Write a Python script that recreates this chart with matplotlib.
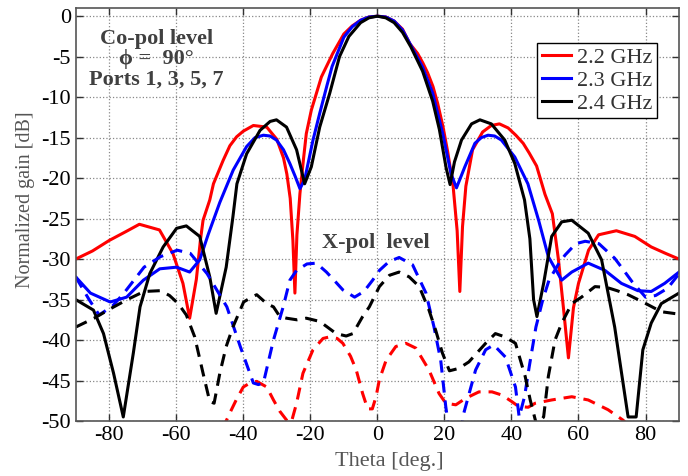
import matplotlib.pyplot as plt

plt.rcParams['font.family'] = ['Liberation Serif', 'DejaVu Serif']
plt.rcParams['axes.unicode_minus'] = False

# ------------------ Co-pol (solid) ------------------
theta_co_22 = [-90, -85, -80, -75, -71, -65, -61, -58, -56, -54, -52.8, -52, -50, -48.9, -46, -44, -42, -40, -37,
               -33, -30, -28, -27, -26, -25.2, -24.6, -24, -23.1, -22, -21.2, -19.7, -16.7, -13.3, -10, -7.5, -5,
               -2.5, 0, 2.5, 5, 7.5, 9.7, 12, 13.6, 15, 16.6, 18, 19.6, 21, 22.6, 23.8, 24.6, 25.4, 26.4, 28.4,
               31.4, 34, 36.4, 39, 41.3, 43.5, 45.3, 47.5, 50, 52.2, 54, 55.5, 57, 58.5, 60, 63, 66, 71.3, 76.8,
               81.7, 86, 90]
gain_co_22 = [-30, -29, -27.7, -26.6, -25.7, -26.4, -29.3, -33, -37.3, -32.5, -27.7, -25.2, -22.7, -20.7, -17.8,
              -16, -14.9, -14.2, -13.5, -13.7, -15.2, -17.5, -19.5, -22.5, -27.7, -34.2, -27, -21.9, -17.5, -14.5,
              -11.6, -7.5, -4.6, -2.2, -1.2, -0.5, -0.1, 0, -0.1, -0.6, -1.6, -3.4, -4.6, -5.8, -7.0, -8.7, -10.8,
              -13.7, -16.8, -21, -26.5, -34, -26, -21, -16.5, -14.3, -13.5, -13.3, -13.8, -14.7, -15.7, -16.9,
              -18.5, -22, -24.4, -30, -36, -42.2, -36, -33, -28.9, -27, -26.5, -27.2, -28.5, -29.3, -30]

theta_co_23 = [-90, -85.6, -79.7, -74.8, -69.8, -64.9, -59.9, -56, -53, -50.5, -47, -43, -39, -36.5, -34, -32,
               -30.1, -28, -26.1, -24.5, -23.1, -21.7, -19.2, -17.2, -15, -13.5, -10, -7.5, -5, -2.5, 0, 2.5, 5,
               7.5, 10, 13.5, 16.5, 19.5, 22, 23.6, 26.1, 29.1, 31, 33, 35, 37, 41, 44.9, 48.1, 51, 55, 58, 62.9,
               67.9, 72.8, 77.7, 81.7, 85.7, 90]
gain_co_23 = [-32.2, -34.2, -35.3, -34.7, -32.6, -31.2, -31, -31.6, -30.1, -27, -23, -19, -16.1, -15, -14.7, -14.8,
              -15.3, -16.5, -18.2, -19.8, -21.3, -20.2, -15.3, -12, -8.5, -6.2, -2.6, -1.3, -0.5, -0.1, 0, -0.1,
              -0.6, -1.7, -3.6, -6.3, -9.5, -14.5, -19.5, -21.2, -18.6, -15.7, -15, -14.7, -14.8, -15.3, -17.4,
              -20.7, -25.2, -29.7, -32.6, -31.6, -30.5, -31.4, -33, -33.9, -34, -33, -31.6]

theta_co_24 = [-90, -84.7, -81.7, -78.7, -75.8, -72.8, -70.8, -67.9, -63.9, -59.9, -57, -53, -50, -48.1, -45.1,
               -43.1, -41.9, -39, -35, -32, -30.1, -27.1, -24.1, -21.7, -19.7, -17.2, -14.2, -11.3, -8.5, -5,
               -2.5, 0, 2.5, 5, 7.5, 10, 13.5, 16.5, 18.5, 20.5, 21.7, 23, 25.1, 28.1, 30.6, 34, 38, 41, 43.9,
               45.5, 46.6, 47.6, 49.6, 52, 55, 58, 62.9, 66.9, 70.8, 74.8, 77.2, 79.2, 81.7, 84.7, 90]
gain_co_24 = [-35, -36.3, -39.2, -44.1, -49.5, -41.6, -35.9, -31.8, -28.5, -26.2, -25.9, -27.2, -32.2, -36.7, -31,
              -24.8, -20.7, -17, -14.1, -13, -12.8, -13.7, -16.5, -20.7, -18.6, -13.7, -9.5, -5, -2.5, -0.8, -0.2,
              0, -0.2, -0.8, -2, -3.8, -6.8, -10.5, -14, -18.7, -20.8, -18, -15.3, -13.3, -12.8, -13.3, -15.3,
              -18.2, -22.7, -27.5, -35, -37.1, -33, -27.2, -25.4, -25.2, -26.8, -30.1, -38.4, -49.5, -49.5, -41.2,
              -37.9, -35.5, -34.2]

# ------------------ X-pol (dashed) ------------------
theta_x_22 = [-46.5, -45, -44, -42, -40, -38, -36, -33, -31, -29.1, -26.5, -25.5, -24.1, -22.2, -19.2, -16.2,
              -14.2, -12, -10.3, -8, -6.3, -4.4, -2.9, -1.5, -0.4, 0.6, 2.6, 5.5, 8.5, 11.5, 15.4, 18.4, 20.4,
              23.4, 26.3, 30.3, 34.2, 37.2, 40.1, 42.1, 45, 47.1, 52, 58, 62.9, 68.8, 73.3, 76]
gain_x_22 = [-51, -49.9, -49, -47.3, -45.8, -45.3, -45.1, -45.8, -47.4, -48.8, -50.2, -49.9, -47.8, -44.1, -41.2,
             -39.8, -39.6, -39.8, -40.4, -42, -43.7, -46.6, -48.5, -48.5, -47, -44.9, -42.5, -40.8, -40.4, -41,
             -43.7, -46.6, -47.8, -48, -47.2, -46.4, -46.4, -46.8, -47.6, -48.2, -48.3, -47.8, -47.4, -47, -47.4,
             -48.6, -49.9, -51]

theta_x_23 = [-90, -86, -83, -79, -75.6, -69.6, -64.7, -59.7, -55.8, -50.8, -44.9, -40.9, -37, -35.5, -34, -31,
              -28.1, -26.1, -24.1, -21, -18.2, -15.2, -12.5, -10.3, -6.8, -4, -1.4, 0.6, 3.5, 6.5, 10.5, 14.5,
              16.9, 18.9, 20.4, 21.5, 23, 24.5, 25.8, 29.3, 32.3, 34.7, 38.2, 41.2, 42.3, 43.9, 45.3, 47.3, 49.3,
              51.2, 54.2, 56, 59.2, 62, 66.1, 70.8, 72.8, 76, 80, 83, 86.6, 90]
gain_x_23 = [-32.2, -35, -36.9, -35.8, -34.2, -31, -29.7, -28.9, -29.3, -31.8, -35.9, -40.8, -45.3, -45.5, -45.3,
             -40, -35.9, -32.6, -31.4, -30.6, -30.5, -31.6, -32.8, -33.8, -34.7, -34, -32.6, -31.4, -30.3, -29.8,
             -30.7, -34.2, -38.4, -42.5, -48.2, -51.5, -53, -52, -49, -43.7, -41.2, -40.6, -42.1, -45.8, -49.5,
             -47, -43.3, -38.4, -35.1, -32.6, -30.5, -29.5, -28.1, -27.8, -28.1, -29.9, -31, -32.8, -34.7, -34.5,
             -33.6, -31.8]

theta_x_24 = [-90, -84.5, -79.5, -74.6, -69.6, -64.7, -62, -59.4, -57, -54.5, -52, -50, -48.7, -47, -45.1, -43.1,
              -39.9, -37.5, -36, -33, -31, -29.1, -27.1, -24, -21.2, -17.2, -12.3, -9.3, -7.3, -4.4, -2.4, 0.6,
              3.6, 6.5, 9.5, 12.5, 15.4, 17.4, 19.4, 21.5, 24.3, 27.3, 32.3, 35.2, 38, 41.2, 44.1, 45.6, 47.5,
              49.6, 51, 53, 55, 58, 60.9, 64.9, 68.4, 71.5, 74.8, 79.2, 84.7, 90]
gain_x_24 = [-38.4, -37.3, -36.1, -35, -34, -33.9, -34.5, -35.5, -36.9, -39.6, -44.1, -47.6, -47.8, -44.1, -40.8,
             -38.4, -35.3, -34.7, -34.4, -35.5, -35.9, -37.1, -37.3, -37.5, -37.3, -37.7, -39.2, -39.5, -39.2,
             -37.1, -35.9, -33.4, -32, -31.6, -32.2, -33.4, -36.3, -38.8, -41.6, -43.8, -43.5, -42.7, -40.4,
             -39.2, -39.6, -40.4, -44.5, -47.4, -50.5, -49.5, -44.5, -40, -37.9, -35.5, -34.7, -33.4, -33.5,
             -33.9, -34.4, -35.3, -36.5, -36.8]

labels = ["2.2 GHz", "2.3 GHz", "2.4 GHz"]
colors = ["#ff0000", "#0000ff", "#000000"]

fig = plt.figure(figsize=(6.88, 4.76), dpi=100)
ax = fig.add_axes([0.110, 0.1155, 0.877, 0.8675])

co = [(theta_co_22, gain_co_22), (theta_co_23, gain_co_23), (theta_co_24, gain_co_24)]
xp = [(theta_x_22, gain_x_22), (theta_x_23, gain_x_23), (theta_x_24, gain_x_24)]

for (t, g), c, lab in zip(co, colors, labels):
    ax.plot(t, g, color=c, lw=2.2, label=lab)
for (t, g), c in zip(xp, colors):
    ax.plot(t, g, color=c, lw=2.2, linestyle=(0, (4, 2.6)))

ax.set_xlim(-90, 90)
ax.set_ylim(-50, 1)
ax.set_xticks(range(-80, 81, 20))
ax.set_yticks(range(-50, 1, 5))
ax.tick_params(direction='in', top=True, right=True, labelsize=16, length=5, width=1, colors='#333333',
               labelcolor='black')
for s in ax.spines.values():
    s.set_color('#555555')
    s.set_linewidth(1.2)
ax.grid(True, color='#888888', linestyle=':', linewidth=0.9)

ax.set_xlabel("Theta [deg.]", fontsize=16, color='#555555')
ax.xaxis.set_label_coords(0.519, -0.076)
ax.set_ylabel("Normalized gain [dB]", fontsize=14.5, color='#555555')
ax.yaxis.set_label_coords(-0.068, 0.535)

ax.text(-66, -5.3, "Co-pol level\n\u03d5 =  90°\nPorts 1, 3, 5, 7", ha='center', va='center',
        fontsize=16, fontweight='bold', color='#404040', linespacing=1.0)
ax.text(-0.6, -28.0, "X-pol  level", ha='center', va='center', fontsize=16, fontweight='bold', color='#404040')

leg = ax.legend(loc='upper right', bbox_to_anchor=(0.9635, 0.915), fontsize=16, frameon=True, fancybox=False,
                edgecolor='black', framealpha=1, handlelength=1.3, handletextpad=0.3, labelspacing=0.1,
                borderpad=0.2, borderaxespad=0)
leg.get_frame().set_linewidth(1.0)
for txt in leg.get_texts():
    txt.set_color('#333333')

fig.savefig("out.png", dpi=100)
